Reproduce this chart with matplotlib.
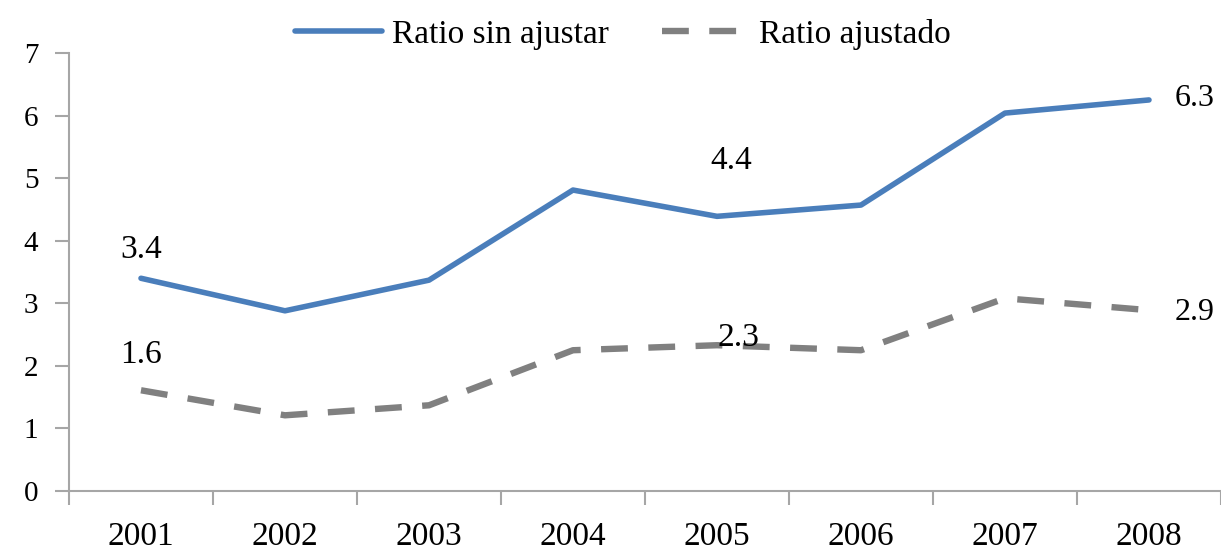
import matplotlib.pyplot as plt

# Datos
anios = ['2001', '2002', '2003', '2004', '2005', '2006', '2007', '2008']
ratio_sin_ajustar = [3.4, 2.88, 3.37, 4.81, 4.39, 4.57, 6.04, 6.25]
ratio_ajustado = [1.61, 1.21, 1.37, 2.25, 2.33, 2.25, 3.08, 2.89]

plt.rcParams['font.family'] = ['Liberation Serif', 'DejaVu Serif']

fig = plt.figure(figsize=(12.21, 5.54), dpi=100)
ax = fig.add_axes([0.0565, 0.1137, 0.9435, 0.7906])

x = list(range(len(anios)))
ax.plot(x, ratio_sin_ajustar, color='#4A7EBB', linewidth=4,
        label='Ratio sin ajustar', solid_capstyle='round')
ax.plot(x, ratio_ajustado, color='#808080', linewidth=4.6,
        dashes=(4.2, 3.2), label='Ratio ajustado')

# Etiquetas de valores
ax.text(0, 3.4 + 0.22, '3.4', fontsize=24, ha='center', va='bottom')
ax.text(0, 1.61 + 0.33, '1.6', fontsize=24, ha='center', va='bottom')
ax.text(4.1, 5.03, '4.4', fontsize=24, ha='center', va='bottom')
ax.text(4.15, 2.2, '2.3', fontsize=24, ha='center', va='bottom')
ax.text(7.18, 6.27, '6.3', fontsize=23, ha='left', va='center')
ax.text(7.18, 2.85, '2.9', fontsize=23, ha='left', va='center')

ax.set_xlim(-0.5, 7.5)
ax.set_ylim(0, 7)
ax.set_yticks(range(0, 8))
ax.set_xticks(x)
ax.set_xticklabels(anios, fontsize=24)
ax.set_xticks([i - 0.5 for i in range(len(anios) + 1)], minor=True)
ax.tick_params(axis='x', which='major', length=0, pad=22)
ax.tick_params(axis='x', which='minor', length=10, color='#A6A6A6', width=1.5)
ax.tick_params(axis='y', length=10, color='#A6A6A6', width=1.5, labelsize=21, pad=12)

for lado in ['top', 'right']:
    ax.spines[lado].set_visible(False)
for lado in ['left', 'bottom']:
    ax.spines[lado].set_color('#A6A6A6')
    ax.spines[lado].set_linewidth(1.5)

fig.legend(loc='upper center', bbox_to_anchor=(0.51, 1.02), ncol=2, frameon=False,
           fontsize=24, handlelength=2.6, columnspacing=1.6, handletextpad=0.3)

plt.savefig('out.png', dpi=100)
